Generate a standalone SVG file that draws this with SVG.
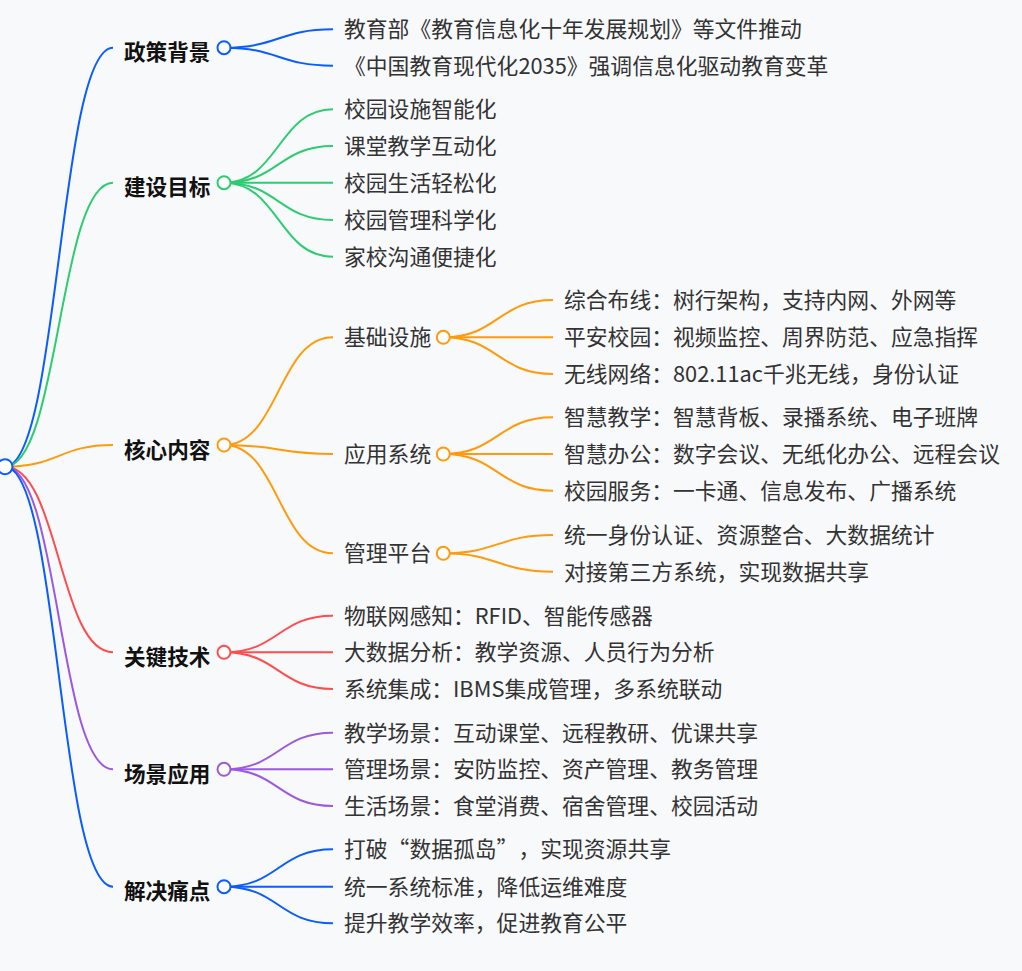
<svg xmlns="http://www.w3.org/2000/svg" width="1022" height="971" viewBox="0 0 1022 971">
<style>
text{font-family:"Noto Sans CJK SC","Noto Sans",sans-serif;font-size:21.8px;fill:#333}
.l1{font-weight:bold;fill:#111;font-size:21.6px}
.fw{font-feature-settings:"fwid"}
.lk{fill:none;stroke-width:2}
.dot{fill:#fff;stroke-width:2}
.b{stroke:#0a5cff}.g{stroke:#2ecc71}.o{stroke:#ff9a0a}.r{stroke:#ff4d4f}.p{stroke:#9b59e0}
</style>
<rect width="1022" height="971" fill="#f8f9fb"/>
<g id="connectors">
<path class="lk b" d="M5 466.7C59 466.7 59 47.7 113 47.7"/>
<path class="lk g" d="M5 466.7C59 466.7 59 182.7 113 182.7"/>
<path class="lk o" d="M5 466.7C59 466.7 59 445 113 445"/>
<path class="lk r" d="M5 466.7C59 466.7 59 652.3 113 652.3"/>
<path class="lk p" d="M5 466.7C59 466.7 59 769.3 113 769.3"/>
<path class="lk b" d="M5 466.7C59 466.7 59 886.7 113 886.7"/>
<path class="lk b" d="M224 47.7C278.5 47.7 278.5 29.3 333 29.3"/>
<path class="lk b" d="M224 47.7C278.5 47.7 278.5 65.7 333 65.7"/>
<path class="lk g" d="M224 182.7C278.5 182.7 278.5 109.3 333 109.3"/>
<path class="lk g" d="M224 182.7C278.5 182.7 278.5 146 333 146"/>
<path class="lk g" d="M224 182.7C278.5 182.7 278.5 182.7 333 182.7"/>
<path class="lk g" d="M224 182.7C278.5 182.7 278.5 220 333 220"/>
<path class="lk g" d="M224 182.7C278.5 182.7 278.5 256.7 333 256.7"/>
<path class="lk o" d="M224 445C278.5 445 278.5 337.3 333 337.3"/>
<path class="lk o" d="M224 445C278.5 445 278.5 454 333 454"/>
<path class="lk o" d="M224 445C278.5 445 278.5 553.3 333 553.3"/>
<path class="lk o" d="M443.3 337.3C498 337.3 498 300 553 300"/>
<path class="lk o" d="M443.3 337.3C498 337.3 498 337.3 553 337.3"/>
<path class="lk o" d="M443.3 337.3C498 337.3 498 374 553 374"/>
<path class="lk o" d="M443.3 454C498 454 498 417.3 553 417.3"/>
<path class="lk o" d="M443.3 454C498 454 498 454 553 454"/>
<path class="lk o" d="M443.3 454C498 454 498 490.7 553 490.7"/>
<path class="lk o" d="M443.3 553.3C498 553.3 498 535 553 535"/>
<path class="lk o" d="M443.3 553.3C498 553.3 498 571.7 553 571.7"/>
<path class="lk r" d="M224 652.3C278.5 652.3 278.5 615.7 333 615.7"/>
<path class="lk r" d="M224 652.3C278.5 652.3 278.5 652.3 333 652.3"/>
<path class="lk r" d="M224 652.3C278.5 652.3 278.5 689 333 689"/>
<path class="lk p" d="M224 769.3C278.5 769.3 278.5 732.7 333 732.7"/>
<path class="lk p" d="M224 769.3C278.5 769.3 278.5 769.3 333 769.3"/>
<path class="lk p" d="M224 769.3C278.5 769.3 278.5 806 333 806"/>
<path class="lk b" d="M224 886.7C278.5 886.7 278.5 849.3 333 849.3"/>
<path class="lk b" d="M224 886.7C278.5 886.7 278.5 886.7 333 886.7"/>
<path class="lk b" d="M224 886.7C278.5 886.7 278.5 923.3 333 923.3"/>
</g>
<g id="root"><circle class="dot b" cx="5" cy="466.7" r="7.5"/></g>
<g id="n-policy">
<text class="l1" x="124" y="60.2">政策背景</text><circle class="dot b" cx="224" cy="47.7" r="6.5"/>
<text x="344" y="37.1">教育部《教育信息化十年发展规划》等文件推动</text>
<text x="344" y="73.5">《中国教育现代化2035》强调信息化驱动教育变革</text>
</g>
<g id="n-goal">
<text class="l1" x="124" y="195.2">建设目标</text><circle class="dot g" cx="224" cy="182.7" r="6.5"/>
<text x="344" y="117.1">校园设施智能化</text>
<text x="344" y="153.8">课堂教学互动化</text>
<text x="344" y="190.5">校园生活轻松化</text>
<text x="344" y="227.8">校园管理科学化</text>
<text x="344" y="264.5">家校沟通便捷化</text>
</g>
<g id="n-core">
<text class="l1" x="124" y="457.5">核心内容</text><circle class="dot o" cx="224" cy="445" r="6.5"/>
<g id="n-infra">
<text x="344" y="345.1">基础设施</text><circle class="dot o" cx="443.3" cy="337.3" r="6.5"/>
<text x="564" y="307.8">综合布线：树行架构，支持内网、外网等</text>
<text x="564" y="345.1">平安校园：视频监控、周界防范、应急指挥</text>
<text x="564" y="381.8">无线网络：802.11ac千兆无线，身份认证</text>
</g>
<g id="n-app">
<text x="344" y="461.8">应用系统</text><circle class="dot o" cx="443.3" cy="454" r="6.5"/>
<text x="564" y="425.1">智慧教学：智慧背板、录播系统、电子班牌</text>
<text x="564" y="461.8">智慧办公：数字会议、无纸化办公、远程会议</text>
<text x="564" y="498.5">校园服务：一卡通、信息发布、广播系统</text>
</g>
<g id="n-mgmt">
<text x="344" y="561.1">管理平台</text><circle class="dot o" cx="443.3" cy="553.3" r="6.5"/>
<text x="564" y="542.8">统一身份认证、资源整合、大数据统计</text>
<text x="564" y="579.5">对接第三方系统，实现数据共享</text>
</g>
</g>
<g id="n-tech">
<text class="l1" x="124" y="664.8">关键技术</text><circle class="dot r" cx="224" cy="652.3" r="6.5"/>
<text x="344" y="623.5">物联网感知：RFID、智能传感器</text>
<text x="344" y="660.1">大数据分析：教学资源、人员行为分析</text>
<text x="344" y="696.8">系统集成：IBMS集成管理，多系统联动</text>
</g>
<g id="n-scene">
<text class="l1" x="124" y="781.8">场景应用</text><circle class="dot p" cx="224" cy="769.3" r="6.5"/>
<text x="344" y="740.5">教学场景：互动课堂、远程教研、优课共享</text>
<text x="344" y="777.1">管理场景：安防监控、资产管理、教务管理</text>
<text x="344" y="813.8">生活场景：食堂消费、宿舍管理、校园活动</text>
</g>
<g id="n-pain">
<text class="l1" x="124" y="899.2">解决痛点</text><circle class="dot b" cx="224" cy="886.7" r="6.5"/>
<text class="fw" x="344" y="857.1">打破“数据孤岛”<tspan x="518.4">，实现资源共享</tspan></text>
<text x="344" y="894.5">统一系统标准，降低运维难度</text>
<text x="344" y="931.1">提升教学效率，促进教育公平</text>
</g>
</svg>
